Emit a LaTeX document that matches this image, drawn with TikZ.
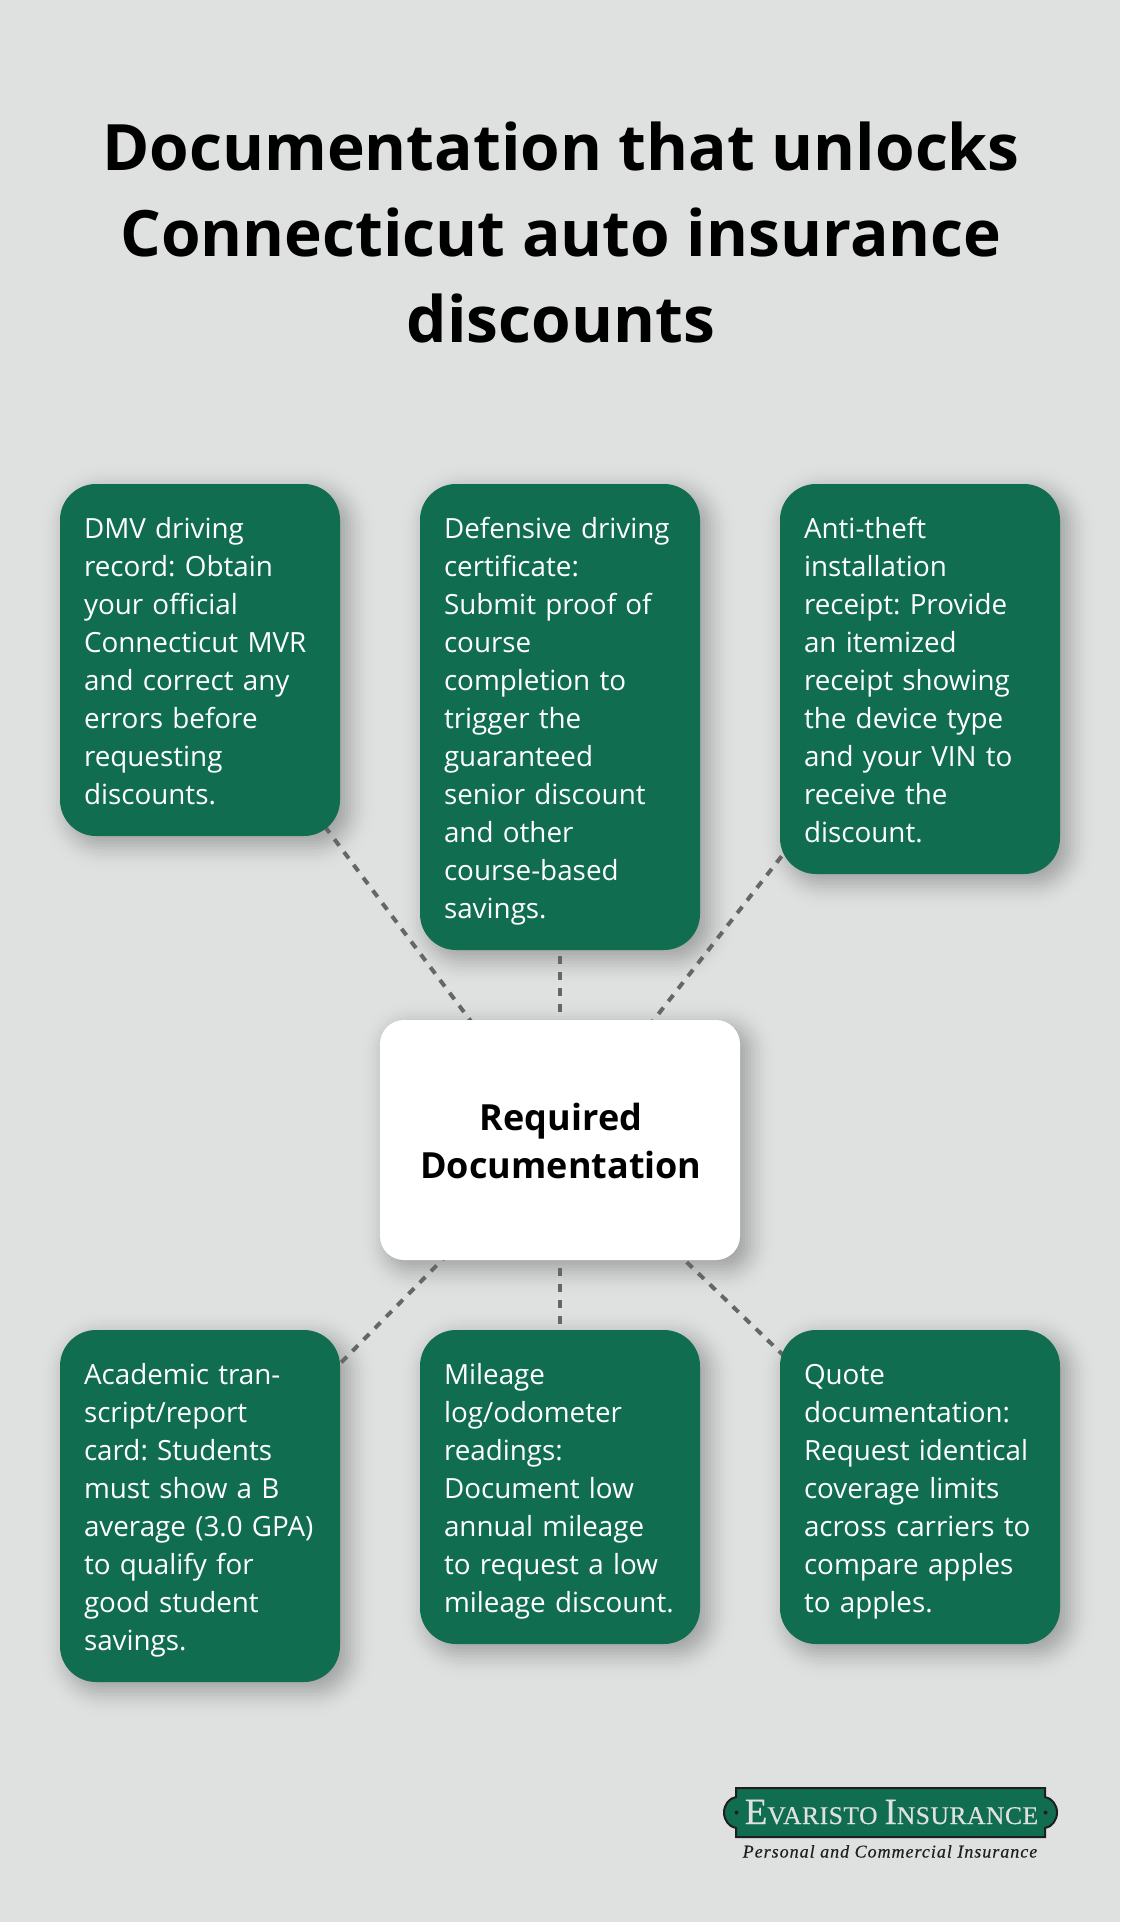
\documentclass[tikz,border=0pt]{standalone}
\usepackage{fontspec}
\setmainfont{Open Sans}
\newfontfamily\logoserif[LetterSpace=2.2,FakeBold=0.4]{Liberation Serif}
\newfontfamily\logoserifsp[LetterSpace=5.5,FakeBold=0.3]{Liberation Serif}
\usetikzlibrary{calc}
\definecolor{pagebg}{RGB}{223,225,224}
\definecolor{dgreen}{RGB}{16,109,80}
\definecolor{dashgray}{RGB}{102,102,102}
\definecolor{logodark}{RGB}{30,30,30}
\pgfdeclarelayer{under}
\pgfsetlayers{under,main}
\frenchspacing
\newcommand{\topstrut}{\rule{0pt}{30pt}}
\newcommand{\botstrut}{\rule[-8pt]{0pt}{8pt}}
\newcommand{\ctop}{\rule{0pt}{38.3pt}}
\newcommand{\cbot}{\rule[-9.7pt]{0pt}{9.7pt}}
% soft shadow of a named node: nested translucent rounded rectangles, heavier near the middle
\newcommand{\softshadow}[2]{%
  \foreach \g in {36,33,...,-36}{%
    \pgfmathsetmacro{\rr}{max(#2+\g,3)}%
    \pgfmathsetmacro{\aa}{0.031*exp(-(\g/18)*(\g/18))}%
    \fill[black,fill opacity=\aa,rounded corners=\rr pt]
      ($(#1.north west)+(8-\g,8-\g)$) rectangle ($(#1.south east)+(8+\g,8+\g)$);
  }%
}
\tikzset{
  greenbox/.style={draw=none,fill=dgreen,text=white,rounded corners=36pt,minimum width=280pt,outer sep=0pt,
    text width=232pt,inner xsep=24pt,inner ysep=0pt,align=left,
    font=\fontsize{27.8}{38}\selectfont},
  centerbox/.style={draw=none,fill=white,text=black,rounded corners=24pt,minimum width=360pt,minimum height=240pt,outer sep=0pt,
    inner sep=0pt,align=center,font=\fontsize{36}{48}\selectfont\bfseries},
  titletext/.style={inner sep=0pt,align=center,anchor=base,font=\fontsize{64}{86}\selectfont\bfseries,text=black},
  link/.style={draw=dashgray,line width=4pt,dash pattern=on 8pt off 8pt},
}
\begin{document}
\begin{tikzpicture}[x=1pt,y=-1pt]
\useasboundingbox (0,0) rectangle (1120,1922);
\begin{pgfonlayer}{under}
\fill[pagebg] (0,0) rectangle (1120,1922);
\end{pgfonlayer}

\node[titletext] (t1) at (561,170) {Documentation that unlocks};
\node[titletext] (t2) at (561,256) {Connecticut auto insurance};
\node[titletext] (t3) at (561,342) {discounts};

\node[centerbox] (c) at (560,1140) {\hspace*{2pt}\ctop Required\\\hspace*{2pt}Documentation\cbot};

\node[greenbox,minimum height=352pt] (b1) at (200,660) {\topstrut DMV driving\\record: Obtain\\your official\\Connecticut MVR\\and correct any\\errors before\\requesting\\discounts.\botstrut};
\node[greenbox,minimum height=466pt] (b2) at (560,717) {\topstrut Defensive driving\\certificate:\\Submit proof of\\course\\completion to\\trigger the\\guaranteed\\senior discount\\and other\\course-based\\savings.\botstrut};
\node[greenbox,minimum height=390pt] (b3) at (920,679) {\topstrut Anti-theft\\installation\\receipt: Provide\\an itemized\\receipt showing\\the device type\\and your VIN to\\receive the\\discount.\botstrut};
\node[greenbox,minimum height=352pt] (b4) at (200,1506) {\topstrut Academic tran-\\script/report\\card: Students\\must show a B\\average (3.0 GPA)\\to qualify for\\good student\\savings.\botstrut};
\node[greenbox,minimum height=314pt] (b5) at (560,1487) {\topstrut Mileage\\log/odometer\\readings:\\Document low\\annual mileage\\to request a low\\mileage discount.\botstrut};
\node[greenbox,minimum height=314pt] (b6) at (920,1487) {\topstrut Quote\\documentation:\\Request identical\\coverage limits\\across carriers to\\compare apples\\to apples.\botstrut};

\begin{pgfonlayer}{under}
\foreach \t in {b1,b2,b3,b4,b5,b6}{\softshadow{\t}{36}}
\softshadow{c}{24}
\foreach \t in {b1,b2,b3,b4,b5,b6}
  \draw[link] (c.center) -- (\t.center);
\end{pgfonlayer}

% logo plaque
\path[fill=dgreen,draw=logodark,line width=2pt]
  (736,1788) -- (1045,1788) -- (1045,1797)
  .. controls (1052,1798) and (1057,1805) .. (1057,1812.5)
  .. controls (1057,1820) and (1052,1827) .. (1045,1828)
  -- (1045,1837) -- (736,1837) -- (736,1828)
  .. controls (729,1827) and (724,1820) .. (724,1812.5)
  .. controls (724,1805) and (729,1798) .. (736,1797) -- cycle;
\fill[logodark] (736.5,1812.5) circle (2pt);
\fill[logodark] (1045.5,1812.5) circle (2pt);
\node[inner sep=0pt,anchor=base,text=pagebg] (logoname) at (891.5,1824)
  {\logoserif\fontsize{37}{37}\selectfont E\fontsize{25.5}{26}\selectfont VARISTO \fontsize{37}{37}\selectfont I\fontsize{25.5}{26}\selectfont NSURANCE};
\node[inner sep=0pt,anchor=base,text=logodark] (logotag) at (890,1857.5)
  {\logoserifsp\itshape\fontsize{18}{18}\selectfont Personal and Commercial Insurance};
\end{tikzpicture}
\end{document}
